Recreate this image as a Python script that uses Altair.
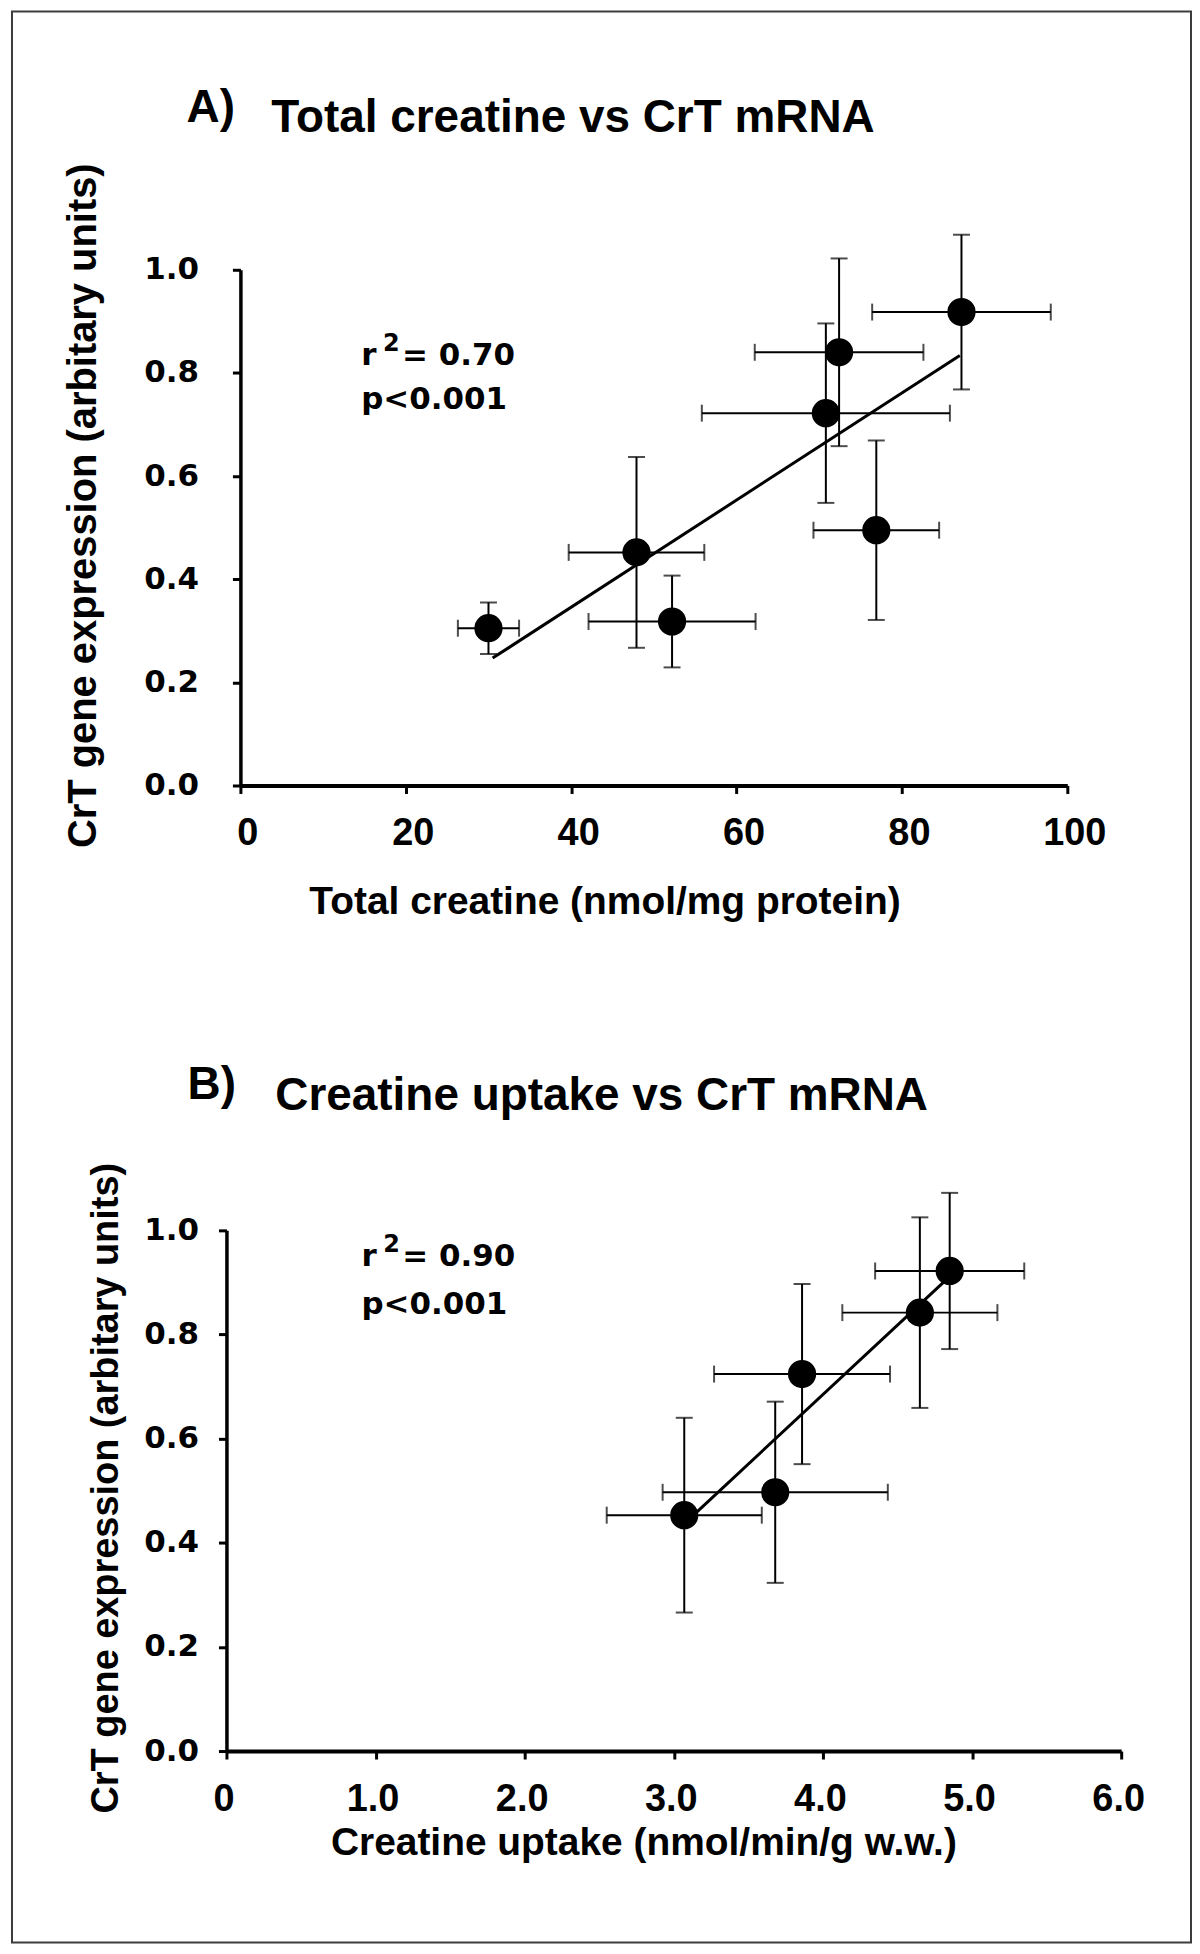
import altair as alt
import pandas as pd

# ---------------- data ----------------
# Panel A: Total creatine vs CrT mRNA
a_x = [30.0, 47.9, 52.2, 70.8, 72.4, 76.9, 87.2]
a_y = [0.305, 0.452, 0.318, 0.722, 0.840, 0.495, 0.918]
a_xerr = [3.7, 8.2, 10.1, 15.0, 10.2, 7.6, 10.8]
a_yerr = [0.050, 0.185, 0.089, 0.174, 0.182, 0.174, 0.150]
a_fit_x = [30.5, 87.0]
a_fit_y = [0.247, 0.834]

# Panel B: Creatine uptake vs CrT mRNA
b_x = [3.07, 3.68, 3.86, 4.65, 4.85]
b_y = [0.453, 0.497, 0.724, 0.842, 0.922]
b_xerr = [0.52, 0.755, 0.59, 0.52, 0.50]
b_yerr = [0.187, 0.174, 0.173, 0.183, 0.150]
b_fit_x = [3.15, 4.86]
b_fit_y = [0.458, 0.914]

y_ticks = [0.0, 0.2, 0.4, 0.6, 0.8, 1.0]
a_x_ticks = [0, 20, 40, 60, 80, 100]
b_x_ticks = [0, 1, 2, 3, 4, 5, 6]

y_title = "CrT gene expression (arbitary units)"
a_x_title = "Total creatine (nmol/mg protein)"
b_x_title = "Creatine uptake (nmol/min/g w.w.)"
a_letter, a_title = "A)", "Total creatine vs CrT mRNA"
b_letter, b_title = "B)", "Creatine uptake vs CrT mRNA"
a_r2, b_r2 = "= 0.70", "= 0.90"
p_text = "p<0.001"
# annotation anchor (data coords): x, baseline of r2 line, baseline of p line
a_ann = [14.6, 0.816, 0.731]
b_ann = [0.905, 0.931, 0.839]

FONT = "Liberation Sans"
AFONT = "DejaVu Sans"


def pts_df(x, y, xe, ye):
    return pd.DataFrame({
        "x": x, "y": y,
        "xlo": [v - e for v, e in zip(x, xe)], "xhi": [v + e for v, e in zip(x, xe)],
        "ylo": [v - e for v, e in zip(y, ye)], "yhi": [v + e for v, e in zip(y, ye)],
    })


def panel(df, fit_x, fit_y, ann, r2, xdom, xrange_, width, height, xticks, xlabel_expr,
          xtitle, y_offset, ylab_pad, ytitle_x, ytitle_y, ytitle_size,
          xlab_pad, xlab_off, xtitle_x, xtitle_y, letter, title, letter_xy, title_xy, frame=None):
    sc_kwargs = dict(domain=xdom, nice=False, zero=False)
    if xrange_ is not None:
        sc_kwargs["range"] = xrange_
    xs = alt.Scale(**sc_kwargs)
    ys = alt.Scale(domain=[0, 1], nice=False, zero=False)
    xaxis = alt.Axis(values=xticks, labelExpr=xlabel_expr, labelFont=FONT, labelFontSize=38,
                     labelFontWeight="bold", labelColor="black", labelPadding=xlab_pad,
                     labelOffset=xlab_off,
                     labelBaseline="alphabetic", labelFlush=False, labelOverlap=False,
                     tickSize=8, tickWidth=3, tickColor="black", domainColor="black",
                     domainWidth=4, grid=False, title=xtitle, titleFont=FONT, titleFontSize=39,
                     titleFontWeight="bold", titleColor="black", titleX=xtitle_x, titleY=xtitle_y,
                     titleAlign="center", titleBaseline="alphabetic")
    yaxis = alt.Axis(values=y_ticks, format=".1f", labelFont=AFONT, labelFontSize=31,
                     labelFontWeight="bold", labelColor="black", labelPadding=ylab_pad,
                     labelFlush=False, labelOverlap=False, offset=y_offset,
                     tickSize=8, tickWidth=3, tickColor="black", domainColor="black",
                     domainWidth=3.5, grid=False, title=y_title, titleFont=FONT,
                     titleFontSize=ytitle_size, titleFontWeight="bold", titleColor="black",
                     titleX=ytitle_x, titleY=ytitle_y, titleAngle=270, titleAlign="center",
                     titleBaseline="alphabetic")
    base = alt.Chart(df)
    X = alt.X("x:Q", scale=xs, axis=xaxis)
    Y = alt.Y("y:Q", scale=ys, axis=yaxis)
    xerr = base.mark_rule(color="black", strokeWidth=2).encode(
        x=alt.X("xlo:Q", scale=xs), x2="xhi:Q", y=alt.Y("y:Q", scale=ys))
    yerr = base.mark_rule(color="black", strokeWidth=2).encode(
        x=alt.X("x:Q", scale=xs), y=alt.Y("ylo:Q", scale=ys), y2="yhi:Q")
    cap = dict(color="black", size=17, thickness=2)
    caps = [
        base.mark_tick(orient="vertical", **cap).encode(x=alt.X("xlo:Q", scale=xs), y=alt.Y("y:Q", scale=ys)),
        base.mark_tick(orient="vertical", **cap).encode(x=alt.X("xhi:Q", scale=xs), y=alt.Y("y:Q", scale=ys)),
        base.mark_tick(orient="horizontal", **cap).encode(x=alt.X("x:Q", scale=xs), y=alt.Y("ylo:Q", scale=ys)),
        base.mark_tick(orient="horizontal", **cap).encode(x=alt.X("x:Q", scale=xs), y=alt.Y("yhi:Q", scale=ys)),
    ]
    fit = alt.Chart(pd.DataFrame({"x": fit_x, "y": fit_y})).mark_line(
        color="black", strokeWidth=3).encode(x=alt.X("x:Q", scale=xs), y=alt.Y("y:Q", scale=ys))
    points = base.mark_circle(size=800, color="black", opacity=1).encode(x=X, y=Y)

    ann_df = pd.DataFrame({"x": [ann[0]], "y1": [ann[1]], "y2": [ann[2]]})
    ab = alt.Chart(ann_df)
    tkw = dict(align="left", baseline="alphabetic", font=AFONT, fontWeight="bold", color="black")
    t_r = ab.mark_text(text="r", fontSize=31, **tkw).encode(
        x=alt.X("x:Q", scale=xs), y=alt.Y("y1:Q", scale=ys))
    t_2 = ab.mark_text(text="2", fontSize=24, dx=22, dy=-14, **tkw).encode(
        x=alt.X("x:Q", scale=xs), y=alt.Y("y1:Q", scale=ys))
    t_eq = ab.mark_text(text=r2, fontSize=31, dx=41, **tkw).encode(
        x=alt.X("x:Q", scale=xs), y=alt.Y("y1:Q", scale=ys))
    t_p = ab.mark_text(text=p_text, fontSize=31, **tkw).encode(
        x=alt.X("x:Q", scale=xs), y=alt.Y("y2:Q", scale=ys))

    one = alt.Data(values=[{}])
    hkw = dict(align="left", baseline="alphabetic", font=FONT, fontWeight="bold",
               fontSize=46, color="black")
    t_letter = alt.Chart(one).mark_text(text=letter, **hkw).encode(
        x=alt.value(letter_xy[0]), y=alt.value(letter_xy[1]))
    t_title = alt.Chart(one).mark_text(text=title, **hkw).encode(
        x=alt.value(title_xy[0]), y=alt.value(title_xy[1]))

    layers = []
    if frame is not None:
        layers.append(alt.Chart(one).mark_rect(fillOpacity=0, stroke="#3c3c3c", strokeWidth=2).encode(
            x=alt.value(frame[0]), x2=alt.value(frame[1]), y=alt.value(frame[2]), y2=alt.value(frame[3])))
    layers += [xerr, yerr] + caps + [fit, points, t_r, t_2, t_eq, t_p, t_letter, t_title]
    return alt.layer(*layers).properties(width=width, height=height)


dfa = pts_df(a_x, a_y, a_xerr, a_yerr)
dfb = pts_df(b_x, b_y, b_xerr, b_yerr)

# group origin of both panels is page x=227; panel A axis starts 14px further right
A = panel(dfa, a_fit_x, a_fit_y, a_ann, a_r2, [0, 100], [14, 843], 843, 517, a_x_ticks,
          "format(datum.value, 'd')", a_x_title,
          y_offset=-14, ylab_pad=34, ytitle_x=-145, ytitle_y=236, ytitle_size=40,
          xlab_pad=51, xlab_off=7, xtitle_x=379, xtitle_y=128,
          letter=a_letter, title=a_title, letter_xy=(-40, -148), title_xy=(45, -138),
          frame=(-215, 967, -259, 1677))
B = panel(dfb, b_fit_x, b_fit_y, b_ann, b_r2, [0, 6], None, 897, 522, b_x_ticks,
          "datum.value == 0 ? '0' : format(datum.value, '.1f')", b_x_title,
          y_offset=0, ylab_pad=20, ytitle_x=-109, ytitle_y=258, ytitle_size=38,
          xlab_pad=52, xlab_off=-3, xtitle_x=418, xtitle_y=104,
          letter=b_letter, title=b_title, letter_xy=(-39, -132), title_xy=(49, -121))

chart = alt.vconcat(A, B, spacing=446, bounds="flush").configure_view(stroke=None).properties(
    padding={"left": 3, "top": 0, "right": 0, "bottom": 0}, background="white")

chart.save("out.html", embed_options={"renderer": "svg", "actions": False})
